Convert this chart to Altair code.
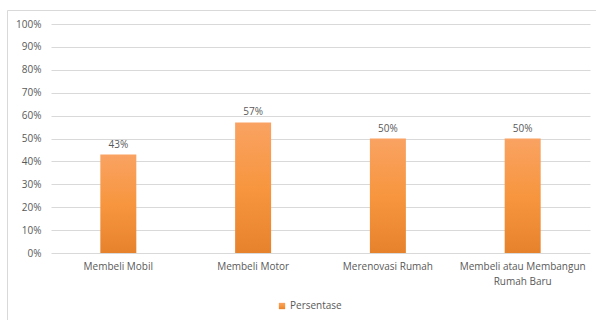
import altair as alt
import pandas as pd

categories = ["Membeli Mobil", "Membeli Motor", "Merenovasi Rumah", "Membeli atau Membangun Rumah Baru"]
values = [0.43, 0.57, 0.50, 0.50]
labels = ["43%", "57%", "50%", "50%"]
series = ["Persentase"] * 4
y_ticks = [0, 0.1, 0.2, 0.3, 0.4, 0.5, 0.6, 0.7, 0.8, 0.9, 1.0]

df = pd.DataFrame({"Kategori": categories, "Nilai": values, "Label": labels, "Seri": series})

FONT = "Open Sans"
GRAY = "#595959"

grad = alt.Gradient(
    gradient="linear",
    stops=[alt.GradientStop(color="#F9A262", offset=0),
           alt.GradientStop(color="#F7963F", offset=0.5),
           alt.GradientStop(color="#E7822C", offset=1)],
    x1=0, x2=0, y1=0, y2=1,
)

base = alt.Chart(df)

x = alt.X("Kategori:N", sort=categories, title=None,
          scale=alt.Scale(paddingInner=0.733, paddingOuter=0.366),
          axis=alt.Axis(labelAngle=0, ticks=False, domain=False, labelFont=FONT,
                        labelFontSize=10, labelColor=GRAY, labelPadding=8,
                        labelLimit=200, labelLineHeight=15, labelOverlap=False,
                        labelExpr="datum.label == 'Membeli atau Membangun Rumah Baru' ? ['Membeli atau Membangun', 'Rumah Baru'] : datum.label"))

y = alt.Y("Nilai:Q", title=None,
          scale=alt.Scale(domain=[0, 1]),
          axis=alt.Axis(format=".0%", values=y_ticks, ticks=False, labelOverlap=False,
                        domain=False, grid=True, gridColor="#D9D9D9", gridWidth=1,
                        labelFont=FONT, labelFontSize=10, labelColor=GRAY, labelPadding=10))

bars = base.mark_bar(color=grad).encode(
    x=x, y=y,
    opacity=alt.Opacity("Seri:N", scale=alt.Scale(range=[1]),
                        legend=alt.Legend(title=None, orient="none", legendX=226, legendY=277,
                                          symbolType="square", symbolSize=40,
                                          symbolFillColor="#F7963F", symbolStrokeWidth=0,
                                          labelFont=FONT, labelFontSize=10, labelColor=GRAY,
                                          labelOffset=3)),
)

text = base.mark_text(baseline="bottom", dy=-5, font=FONT, fontSize=10, color=GRAY).encode(
    x=x, y=y, text="Label:N",
)

frame = alt.Chart(pd.DataFrame({"a": [0]})).mark_rect(
    fill=None, stroke="#D9D9D9", strokeWidth=1
).encode(x=alt.value(-43.5), x2=alt.value(620), y=alt.value(-13.5), y2=alt.value(320))

chart = alt.layer(frame, bars, text).properties(
    width=539, height=229,
    autosize=alt.AutoSizeParams(type="none"),
    padding={"left": 51, "top": 24, "right": 6, "bottom": 67},
).configure_view(stroke=None)

chart.save("out.html", embed_options={"renderer": "svg", "actions": False})
